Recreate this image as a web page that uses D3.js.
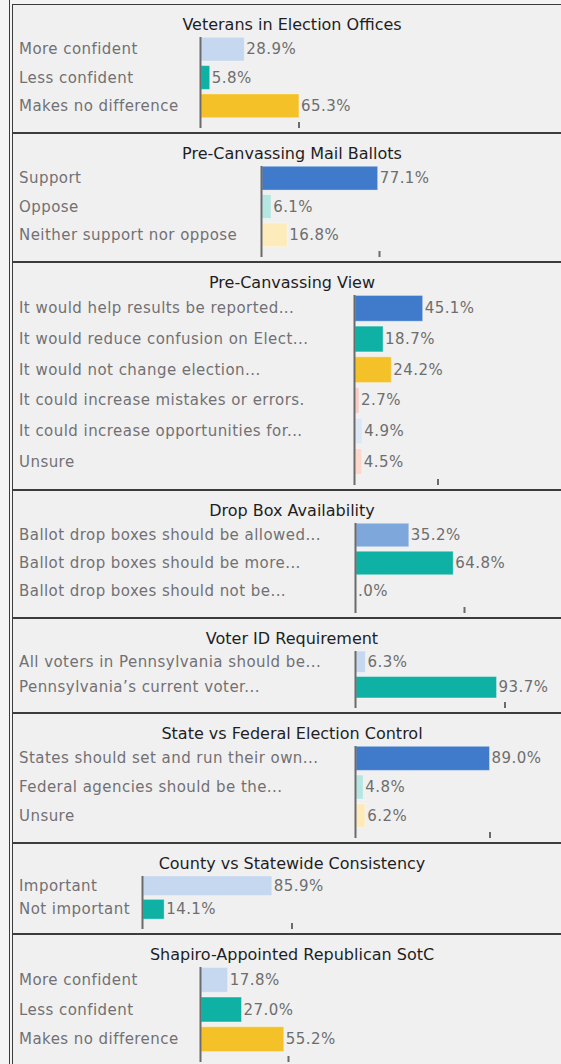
<!DOCTYPE html>
<html>
<head>
<meta charset="utf-8">
<script src="https://cdn.jsdelivr.net/npm/d3@7"></script>
<style>
	html, body { margin: 0; padding: 0; background: #f4f4f4; }
	svg { display: block; }
	text { font-family: "DejaVu Sans", Verdana, sans-serif; font-size: 16px; }
	text.label, text.value { font-size: 15px; letter-spacing: 0.45px; }
</style>
</head>
<body>
<svg id="chart" width="561" height="1064"></svg>
<script>
// chart data
var titles = [
	"Veterans in Election Offices",
	"Pre-Canvassing Mail Ballots",
	"Pre-Canvassing View",
	"Drop Box Availability",
	"Voter ID Requirement",
	"State vs Federal Election Control",
	"County vs Statewide Consistency",
	"Shapiro-Appointed Republican SotC"
];
var categories = [
	["More confident", "Less confident", "Makes no difference"],
	["Support", "Oppose", "Neither support nor oppose"],
	["It would help results be reported...", "It would reduce confusion on Elect...", "It would not change election...",
		"It could increase mistakes or errors.", "It could increase opportunities for...", "Unsure"],
	["Ballot drop boxes should be allowed...", "Ballot drop boxes should be more...", "Ballot drop boxes should not be..."],
	["All voters in Pennsylvania should be...", "Pennsylvania\u2019s current voter..."],
	["States should set and run their own...", "Federal agencies should be the...", "Unsure"],
	["Important", "Not important"],
	["More confident", "Less confident", "Makes no difference"]
];
var values = [
	[28.9, 5.8, 65.3],
	[77.1, 6.1, 16.8],
	[45.1, 18.7, 24.2, 2.7, 4.9, 4.5],
	[35.2, 64.8, 0.0],
	[6.3, 93.7],
	[89.0, 4.8, 6.2],
	[85.9, 14.1],
	[17.8, 27.0, 55.2]
];
var tickValues = [65, 78, 55, 72, 99, 89, 99, 58];

// styling
var barColors = [
	["#c6d8ef", "#0fb1a5", "#f4c228"],
	["#3f7bca", "#b5e6e2", "#fdebbb"],
	["#3f7bca", "#0fb1a5", "#f4c228", "#f6cdc6", "#dce8f6", "#fbd8cb"],
	["#7ea7dc", "#0fb1a5", "#f4c228"],
	["#c6d8ef", "#0fb1a5"],
	["#3f7bca", "#b5e6e2", "#fdebbb"],
	["#c6d8ef", "#0fb1a5"],
	["#c6d8ef", "#0fb1a5", "#f4c228"]
];
var options = {
	panelTop: [4, 133, 262, 490, 618, 713, 843, 934],
	panelBottom: [132, 261, 489, 617, 712, 842, 933, 1066],
	axisLeft: [201, 262, 355, 356, 356, 356, 143, 201],
	titleX: 292,
	labelX: 19,
	pxPerUnit: 1.5
};

var svg = d3.select("#chart");

svg.append("line")
	.attr("x1", 9.5).attr("x2", 9.5)
	.attr("y1", 0).attr("y2", 1064)
	.attr("stroke", "#3a3a3a").attr("stroke-width", 1);

titles.forEach(function(title, i) {
	var top = options.panelTop[i],
		bottom = options.panelBottom[i],
		left = options.axisLeft[i];
	var g = svg.append("g").attr("class", "panel");

	g.append("rect")
		.attr("x", 12.5).attr("y", top + 0.5)
		.attr("width", 600).attr("height", bottom - top)
		.attr("fill", "#f0f0f0")
		.attr("stroke", "#3c3c3c").attr("stroke-width", 1);

	g.append("text")
		.attr("x", options.titleX).attr("y", top + 20)
		.attr("text-anchor", "middle")
		.attr("dominant-baseline", "central")
		.attr("fill", "#1e1e24")
		.text(title);

	var x = d3.scaleLinear()
		.domain([0, 100])
		.range([left, left + 100 * options.pxPerUnit]);
	var y = d3.scaleBand()
		.domain(categories[i])
		.range([top + 31, bottom - 12])
		.paddingInner(0.16)
		.paddingOuter(0.08);

	// category labels
	g.selectAll("text.label")
		.data(categories[i]).enter()
		.append("text")
		.attr("class", "label")
		.attr("x", options.labelX)
		.attr("y", function(d) { return y(d) + y.bandwidth() / 2; })
		.attr("dominant-baseline", "central")
		.attr("fill", "#727074")
		.text(function(d) { return d; });

	// bars
	g.selectAll("rect.bar")
		.data(values[i]).enter()
		.append("rect")
		.attr("class", "bar")
		.attr("x", x(0))
		.attr("y", function(d, j) { return y(categories[i][j]); })
		.attr("width", function(d) { return x(d) - x(0); })
		.attr("height", y.bandwidth())
		.attr("fill", function(d, j) { return barColors[i][j]; })
		.attr("stroke", "rgba(255,255,255,0.35)")
		.attr("stroke-width", function(d) { return d > 0 ? 1 : 0; });

	// value labels
	g.selectAll("text.value")
		.data(values[i]).enter()
		.append("text")
		.attr("class", "value")
		.attr("x", function(d) { return x(d) + 2; })
		.attr("y", function(d, j) { return y(categories[i][j]) + y.bandwidth() / 2; })
		.attr("dominant-baseline", "central")
		.attr("fill", "#6e6e6e")
		.text(function(d) { return d === 0 ? ".0%" : d.toFixed(1) + "%"; });

	// vertical axis line
	var yAxis = d3.axisLeft(y).tickSize(0).tickFormat("").tickSizeOuter(0);
	var ga = g.append("g")
		.attr("transform", "translate(" + (left - 0.5) + ",0)")
		.call(yAxis);
	ga.select(".domain")
		.attr("d", "M0," + (top + 33) + "V" + (bottom - 4))
		.attr("stroke", "#6b6b6b").attr("stroke-width", 2);

	// single tick mark
	var xAxis = d3.axisBottom(x).tickValues([tickValues[i]]).tickFormat("").tickSize(6);
	var gx = g.append("g")
		.attr("transform", "translate(0," + (bottom - 10) + ")")
		.call(xAxis);
	gx.select(".domain").remove();
	gx.selectAll(".tick line").attr("stroke", "#6b6b6b").attr("stroke-width", 2);
});
</script>
</body>
</html>
